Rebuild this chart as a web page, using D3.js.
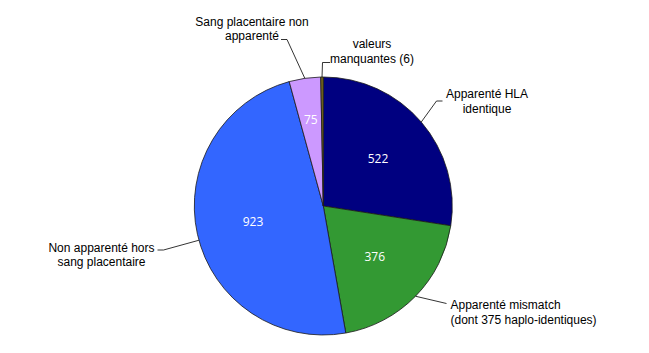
<!DOCTYPE html>
<html>
<head>
<meta charset="utf-8">
<script src="https://cdn.jsdelivr.net/npm/d3@7"></script>
<style>
  body { margin: 0; background: #fff; }
  svg { display: block; }
</style>
</head>
<body>
<svg></svg>
<script>
var width = 649, height = 353;

// données
var categories = ["Apparenté HLA identique",
                  "Apparenté mismatch (dont 375 haplo-identiques)",
                  "Non apparenté hors sang placentaire",
                  "Sang placentaire non apparenté",
                  "valeurs manquantes (6)"];
var values = [522, 376, 923, 75, 6];
var labelLines = [["Apparenté HLA", "identique"],
                  ["Apparenté mismatch", "(dont 375 haplo-identiques)"],
                  ["Non apparenté hors", "sang placentaire"],
                  ["Sang placentaire non", "apparenté"],
                  ["valeurs", "manquantes (6)"]];
var showValue = [true, true, true, true, false];

var colors = ["#000080", "#339933", "#3366ff", "#cc99ff", "#7a6a1c"];

// emplacement des étiquettes extérieures (x, ligne de base, ancrage, crochet)
var callouts = [
  {x: 487, y: 98,  anchor: "middle", hook: [442.5, 101, 436.5, 101]},
  {x: 450.5, y: 309, anchor: "start", hook: [446.5, 303.5, 446.5, 303.5]},
  {x: 101.5, y: 251.5, anchor: "middle", hook: [157.5, 250, 163.5, 250]},
  {x: 252, y: 25.5, anchor: "middle", hook: [281, 39.5, 287, 39.5]},
  {x: 372, y: 48, anchor: "middle", hook: [330, 62.5, 322.5, 62.5]}
];

var cx = 323.3, cy = 206, radius = 129;

var svg = d3.select("svg")
    .attr("width", width)
    .attr("height", height);

var pie = d3.pie().sort(null).startAngle(0).endAngle(2 * Math.PI);
var arcs = pie(values);

var arc = d3.arc().innerRadius(0).outerRadius(radius);

var g = svg.append("g")
    .attr("transform", "translate(" + cx + "," + cy + ")");

g.selectAll("path.slice")
    .data(arcs)
    .enter().append("path")
    .attr("class", "slice")
    .attr("d", arc)
    .attr("fill", function(d, i) { return colors[i]; })
    .attr("stroke", "#1a1a1a")
    .attr("stroke-width", 0.8);

// valeurs dans les parts
g.selectAll("text.value")
    .data(arcs.filter(function(d, i) { return showValue[i]; }))
    .enter().append("text")
    .attr("class", "value")
    .attr("transform", function(d) {
      var r = (d.endAngle - d.startAngle) < 0.3 ? 87 : 72;
      var c = d3.arc().innerRadius(r).outerRadius(r).centroid(d);
      return "translate(" + c[0] + "," + (c[1] + 4.3) + ")";
    })
    .attr("text-anchor", "middle")
    .attr("fill", "#fff")
    .style("font-family", "'Open Sans', sans-serif")
    .style("font-size", "12px")
    .text(function(d) { return d.value; });

// lignes de rappel
arcs.forEach(function(d, i) {
  var c = callouts[i];
  var hx = c.hook[2], hy = c.hook[3];
  var a;
  if (d.endAngle - d.startAngle > 2.6) {
    a = Math.atan2(hx - cx, -(hy - cy));
    if (a < 0) a += 2 * Math.PI;
  } else {
    a = (d.startAngle + d.endAngle) / 2;
  }
  var tx = cx + radius * Math.sin(a), ty = cy - radius * Math.cos(a);
  svg.append("path")
      .attr("d", "M" + c.hook[0] + "," + c.hook[1] + "L" + hx + "," + hy + "L" + tx + "," + ty)
      .attr("fill", "none")
      .attr("stroke", "#000")
      .attr("stroke-width", 0.8);
});

// étiquettes extérieures
var labels = svg.selectAll("text.label")
    .data(labelLines)
    .enter().append("text")
    .attr("class", "label")
    .attr("text-anchor", function(d, i) { return callouts[i].anchor; })
    .style("font-family", "'Liberation Sans', Arial, sans-serif")
    .style("font-size", "12px")
    .attr("fill", "#000");

labels.selectAll("tspan")
    .data(function(d, i) { return d.map(function(t) { return {t: t, i: i}; }); })
    .enter().append("tspan")
    .attr("x", function(d) { return callouts[d.i].x; })
    .attr("y", function(d, j) { return callouts[d.i].y + j * 14.7; })
    .text(function(d) { return d.t; });
</script>
</body>
</html>
